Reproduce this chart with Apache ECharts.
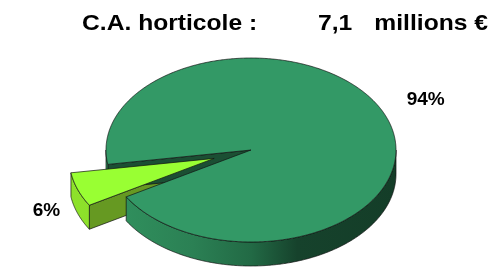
<!DOCTYPE html>
<html>
<head>
<meta charset="utf-8">
<script src="https://cdn.jsdelivr.net/npm/echarts@6/dist/echarts.min.js"></script>
<style>html,body{margin:0;padding:0;background:#fff}#c{width:492px;height:268px}</style>
</head>
<body>
<div id="c"></div>
<script>
// ---- data ----
const categories = ['Segment principal', 'Segment secondaire'];
const values = [94, 6];
const titleMain = 'C.A. horticole :';
const titleValue = '7,1';
const titleUnit = 'millions \u20ac';

// ---- style / layout ----
const startAngle = 171;          // screen degrees, clockwise
const explode = [0, 0.27];       // fraction of radius
const topColors = ['#339966', '#99ff33'];
const wallColors = ['#1b4f33', '#669922'];
const sideGrads = [
  [{offset:0,color:'#31935f'},{offset:0.3,color:'#2b8054'},{offset:0.5,color:'#226a45'},{offset:0.66,color:'#16422c'},{offset:1,color:'#143d28'}],
  [{offset:0,color:'#8ee22b'},{offset:1,color:'#7acb22'}]
];
const CX = 251, CY = 150, RX = 145, RY = 92, DEPTH = 24;
const FONT = '"Liberation Sans", Arial, sans-serif';

const total = values.reduce((a, b) => a + b, 0);
const slices = [];
let acc = startAngle;
values.forEach((v, i) => {
  const a1 = acc, a2 = acc + v / total * 360;
  acc = a2;
  const mid = (a1 + a2) / 2 * Math.PI / 180;
  const cx = CX + RX * explode[i] * Math.cos(mid);
  const cy = CY + RY * explode[i] * Math.sin(mid);
  slices.push({a1, a2, mid, cx, cy});
});

function rim(cx, cy, a, dy) {
  const r = a * Math.PI / 180;
  return [cx + RX * Math.cos(r), cy + dy + RY * Math.sin(r)];
}
function arc(cx, cy, a1, a2, dy) {
  const n = Math.max(2, Math.ceil(Math.abs(a2 - a1) * 2));
  const pts = [];
  for (let k = 0; k <= n; k++) pts.push(rim(cx, cy, a1 + (a2 - a1) * k / n, dy));
  return pts;
}
const edge = {stroke: '#111', lineWidth: 0.7, lineJoin: 'round'};

function renderItem(params, api) {
  const i = params.dataIndex;
  const s = slices[i];
  const children = [];
  const sideZ = explode[i] > 0 ? 1 : 2;
  // radial walls
  [[s.a1, -1], [s.a2, 1]].forEach(([a, dir]) => {
    const c = Math.cos(a * Math.PI / 180) * dir;
    if (c > 0) {
      const p = rim(s.cx, s.cy, a, 0), q = rim(s.cx, s.cy, a, DEPTH);
      children.push({type: 'polygon', z2: sideZ,
        shape: {points: [[s.cx, s.cy], p, q, [s.cx, s.cy + DEPTH]]},
        style: Object.assign({fill: wallColors[i]}, edge)});
    }
  });
  // outer curved wall (visible half: 0..180 mod 360)
  for (let k = -1; k <= 2; k++) {
    const lo = Math.max(s.a1, k * 360), hi = Math.min(s.a2, k * 360 + 180);
    if (hi > lo) {
      const top = arc(s.cx, s.cy, lo, hi, 0);
      const bot = arc(s.cx, s.cy, lo, hi, DEPTH).reverse();
      children.push({type: 'polygon', z2: sideZ,
        shape: {points: top.concat(bot)},
        style: Object.assign({fill: {type: 'linear', x: s.cx - RX, y: 0, x2: s.cx + RX, y2: 0,
          global: true, colorStops: sideGrads[i]}}, edge)});
    }
  }
  // top face
  children.push({type: 'polygon', z2: 10,
    shape: {points: [[s.cx, s.cy]].concat(arc(s.cx, s.cy, s.a1, s.a2, 0))},
    style: Object.assign({fill: topColors[i]}, edge)});
  // label
  const pct = Math.round(api.value(0) / total * 100) + '%';
  const cm = Math.cos(s.mid), sm = Math.sin(s.mid);
  let nx = cm / RX, ny = sm / RY;
  const nl = Math.hypot(nx, ny); nx /= nl; ny /= nl;
  const d = 40 - 12 * sm;
  const lx = s.cx + RX * cm + nx * d, ly = s.cy + RY * sm + ny * d + 3;
  children.push({type: 'text', z2: 20,
    style: {text: pct, x: lx, y: ly, align: 'center', verticalAlign: 'middle',
      fill: '#000', font: 'bold 19px ' + FONT}});
  return {type: 'group', children};
}

const chart = echarts.init(document.getElementById('c'), null, {renderer: 'canvas'});
chart.setOption({
  animation: false,
  backgroundColor: '#fff',
  graphic: [
    {type: 'text', left: 82, top: 13, scaleX: 1.12,
      style: {text: titleMain, fill: '#000', font: 'bold 22px ' + FONT}},
    {type: 'text', left: 318, top: 13, scaleX: 1.12,
      style: {text: titleValue, fill: '#000', font: 'bold 22px ' + FONT}},
    {type: 'text', right: 4, top: 13, scaleX: 1.12, originX: 0,
      style: {text: titleUnit, fill: '#000', font: 'bold 22px ' + FONT}}
  ],
  series: [{
    type: 'custom',
    coordinateSystem: 'none',
    renderItem,
    data: values.map((v, i) => ({name: categories[i], value: [v]}))
  }]
});
</script>
</body>
</html>
